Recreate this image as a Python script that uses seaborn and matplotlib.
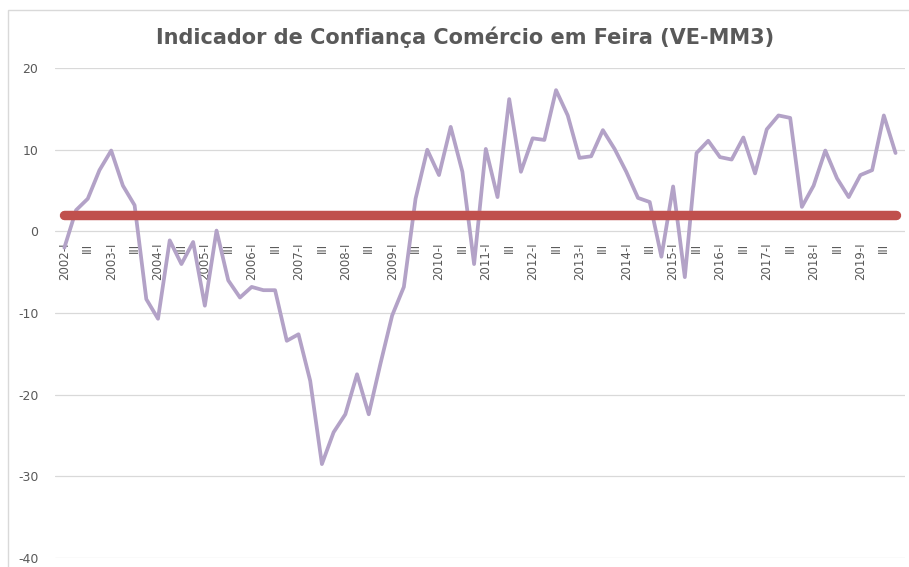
import numpy as np
import pandas as pd
import seaborn as sns
import matplotlib.pyplot as plt
from matplotlib.patches import Rectangle

# quarterly values, 2002-I .. 2019-IV
years = list(range(2002, 2020))
quarters = ["I", "II", "III", "IV"]
values = [
    -2.0, 2.6, 4.0, 7.5, 9.9, 5.6, 3.2, -8.3,
    -10.7, -1.1, -4.0, -1.3, -9.1, 0.1, -6.0, -8.1,
    -6.8, -7.2, -7.2, -13.4, -12.6, -18.3, -28.5, -24.6,
    -22.4, -17.5, -22.4, -16.2, -10.3, -6.8, 4.0, 10.0,
    6.9, 12.8, 7.3, -4.0, 10.1, 4.2, 16.2, 7.3,
    11.4, 11.2, 17.3, 14.2, 9.0, 9.2, 12.4, 10.1,
    7.3, 4.1, 3.6, -3.1, 5.5, -5.6, 9.6, 11.1,
    9.1, 8.8, 11.5, 7.1, 12.5, 14.2, 13.9, 3.0,
    5.6, 9.9, 6.5, 4.2, 6.9, 7.5, 14.2, 9.6,
]
reference_level = 2.0
yticks = [20, 10, 0, -10, -20, -30, -40]

labels = []
for y in years:
    for q in quarters:
        labels.append(f"{y}-{q}" if q == "I" else q)

df = pd.DataFrame({
    "pos": np.arange(len(values)),
    "valor": values,
    "ref": [reference_level] * len(values),
})

sns.set_theme(style="white")
plt.rcParams["font.family"] = ["Liberation Sans Narrow", "DejaVu Sans"]

fig = plt.figure(figsize=(9.09, 5.67), dpi=100)
ax = fig.add_axes([0.0605, 0.0159, 0.935, 0.864])

# chart border
fig.patches.append(Rectangle((8 / 909, -0.05), 1.0, 1 - 10 / 567 + 0.05,
                             transform=fig.transFigure, fill=False,
                             edgecolor="#D9D9D9", linewidth=1.0))

sns.lineplot(data=df, x="pos", y="valor", ax=ax, color="#B3A2C7",
             linewidth=2.7, zorder=3)
sns.lineplot(data=df, x="pos", y="ref", ax=ax, color="#C0504D",
             linewidth=6.8, solid_capstyle="round", zorder=4)

ax.set_ylim(-40, 20)
ax.set_xlim(-0.8, 71.8)
ax.spines["bottom"].set_position(("data", 0))
for s in ["top", "right", "left", "bottom"]:
    ax.spines[s].set_visible(False)
ax.tick_params(axis="both", length=0)
ax.tick_params(axis="x", pad=8, labelrotation=90)
ax.tick_params(axis="y", pad=12)

ax.set_yticks(yticks)
ax.set_yticklabels([str(t) for t in yticks], fontsize=9, color="#595959")
ax.yaxis.grid(True, color="#D9D9D9", linewidth=0.9)
ax.set_axisbelow(True)

ax.set_xticks(list(df["pos"][::2]))
ax.set_xticklabels(labels[::2], rotation=90, fontsize=8.5, color="#595959")
ax.set_xlabel("")
ax.set_ylabel("")

fig.text(0.512, 0.935, "Indicador de Confiança Comércio em Feira (VE-MM3)",
         ha="center", va="center", fontsize=15, fontweight="bold",
         color="#595959", family=["Liberation Sans Narrow", "DejaVu Sans"])

fig.savefig("out.png", dpi=100)
